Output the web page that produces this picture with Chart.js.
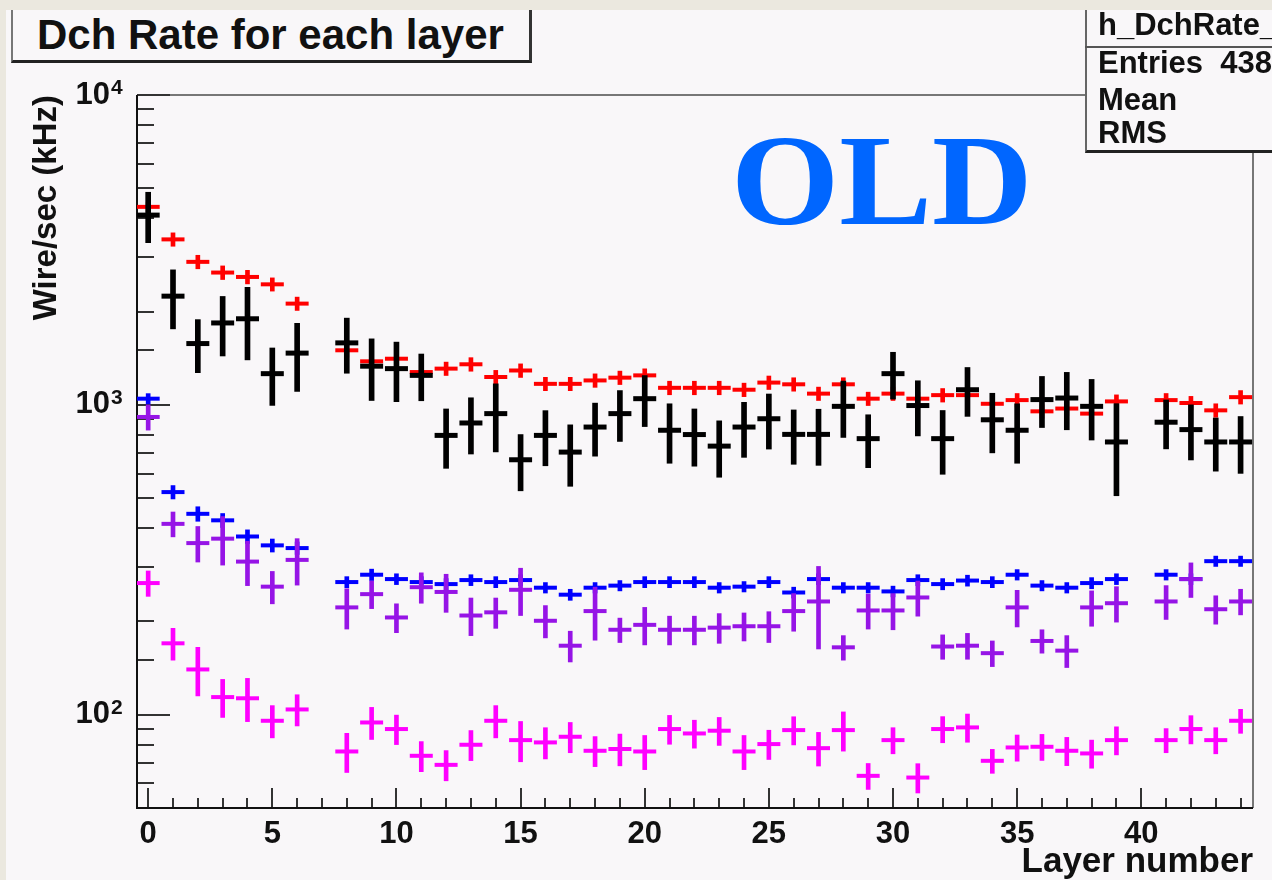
<!DOCTYPE html>
<html>
<head>
<meta charset="utf-8">
<script src="https://cdn.jsdelivr.net/npm/chart.js@4.4.1/dist/chart.umd.min.js"></script>
<style>
  body { margin: 0; background: #ebe8df; }
  #wrap { position: relative; width: 1272px; height: 880px; overflow: hidden; }
  #pad { position: absolute; left: 6px; top: 10px; right: 0; bottom: 0; background: #f9f7f9; }
  #chart { position: absolute; left: 0; top: 0; }
  .txt { position: absolute; white-space: nowrap; font-family: "Liberation Sans", Arial, sans-serif; font-weight: bold; color: #111; }
  #titlebox { position: absolute; left: 11px; top: 10px; width: 516px; height: 50px; background: #f9f7f9;
    border-left: 2px solid #777; border-right: 3px solid #333; border-bottom: 3px solid #222; }
  #statbox { position: absolute; left: 1085px; top: 10px; width: 200px; height: 140px; background: #f9f7f9;
    border-left: 2px solid #666; border-bottom: 3px solid #222; }
  #statline { position: absolute; left: 1085px; top: 46px; width: 200px; height: 2px; background: #555; }
  #old { position: absolute; left: 731px; top: 115px; font: bold 130px "Liberation Serif", "Times New Roman", serif;
    line-height: 130px; color: #0066ff; transform: scaleX(1.07); transform-origin: left top; }
</style>
</head>
<body>
<div id="wrap">
  <div id="pad"></div>
  <canvas id="chart" width="1272" height="880"></canvas>
  <div id="titlebox"></div>
  <div class="txt" style="left:37px;top:14px;font-size:42px;line-height:42px;">Dch Rate for each layer</div>
  <div id="statbox"></div>
  <div id="statline"></div>
  <div class="txt" style="left:1098px;top:9px;font-size:31px;line-height:31px;">h_DchRate_</div>
  <div class="txt" style="left:1098px;top:47px;font-size:31px;line-height:31px;">Entries&nbsp; 438</div>
  <div class="txt" style="left:1098px;top:84px;font-size:31px;line-height:31px;">Mean</div>
  <div class="txt" style="left:1098px;top:117px;font-size:31px;line-height:31px;">RMS</div>
  <div id="old">OLD</div>
</div>
<script>
const layers = [0, 1, 2, 3, 4, 5, 6, 7, 8, 9, 10, 11, 12, 13, 14, 15, 16, 17, 18, 19, 20, 21, 22,
  23, 24, 25, 26, 27, 28, 29, 30, 31, 32, 33, 34, 35, 36, 37, 38, 39, 40, 41, 42, 43, 44];

const redRate = [4355, 3420, 2894, 2673, 2587, 2449, 2122, null, 1500, 1382, 1409, 1276, 1309, 1352, 1230,
  1291, 1169, 1169, 1199, 1224, 1245, 1135, 1135, 1135, 1119, 1180, 1165, 1087, 1165, 1047, 1087, 1047,
  1075, 1075, 1008, 1036, 953, 973, 937, 1026, null, 1036, 1014, 960, 1059];
const redErr = [150, 170, 145, 135, 130, 120, 105, null, 75, 70, 70, 65, 65, 68, 62, 65, 58, 58, 60, 61, 62,
  57, 57, 57, 56, 59, 58, 54, 58, 52, 54, 52, 54, 54, 50, 52, 48, 49, 47, 51, null, 52, 51, 48, 53];

const blackRate = [4096, 2243, 1577, 1838, 1896, 1261, 1469, null, 1585, 1333, 1309, 1245, 797, 874, 937,
  665, 797, 704, 848, 937, 1047, 828, 802, 736, 848, 902, 803, 803, 989, 778, 1261, 995, 778, 1119, 895,
  828, 1040, 1052, 989, 759, null, 879, 832, 759, 759];
const blackErr = [758, 484, 307, 400, 499, 265, 364, null, 320, 300, 285, 214, 173, 180, 232, 137, 161, 158,
  165, 175, 196, 180, 168, 152, 171, 182, 160, 165, 204, 151, 217, 201, 181, 201, 195, 180, 195, 221, 219,
  250, null, 158, 168, 148, 158];

const blueRate = [1047, 523, 445, 424, 376, 352, 345, null, 268, 283, 274, 268, 264, 272, 268, 272, 257, 244,
  257, 261, 268, 268, 268, 257, 259, 268, 248, 274, 257, 257, 250, 272, 264, 271, 268, 283, 261, 257, 266,
  274, null, 283, 274, 313, 313];
const blueErr = [40, 26, 24, 22, 19, 17, 16, null, 11, 12, 11, 11, 11, 11, 11, 11, 10, 10, 10, 10, 11, 11, 11,
  10, 10, 11, 10, 11, 10, 10, 10, 11, 11, 11, 11, 11, 10, 10, 11, 11, null, 11, 11, 12, 12];

const purpleRate = [914, 413, 358, 370, 312, 259, 316, null, 222, 245, 206, 258, 249, 209, 214, 253, 201, 167,
  216, 188, 195, 188, 188, 191, 193, 193, 216, 232, 165, 217, 217, 239, 166, 167, 158, 222, 173, 161, 222,
  229, null, 232, 274, 219, 232];
const purpleErr = [85, 38, 47, 66, 51, 31, 54, null, 33, 25, 22, 29, 35, 29, 24, 44, 24, 19, 42, 17, 27, 20, 20,
  21, 20, 22, 30, 69, 15, 28, 29, 31, 15, 16, 15, 30, 15, 19, 29, 30, null, 29, 35, 23, 22];

const magentaRate = [266, 170, 140, 114, 113, 95.6, 104, null, 76.1, 94.4, 89.9, 73.7, 68.9, 80, 95.6, 82.8,
  81.4, 84.9, 76.5, 77.5, 76.1, 89.9, 87.0, 88.8, 76.1, 80.4, 89.2, 78.0, 89.2, 63.5, 82.8, 62.7, 89.9,
  91.0, 71.0, 78.4, 78.8, 76.5, 75.0, 82.8, null, 82.8, 89.9, 82.8, 95.6];
const magentaErr = [25, 20, 25, 16, 18, 11.4, 12, null, 11, 11.2, 9.8, 8.2, 7.7, 8.9, 11.4, 12.3, 9.4, 9.5, 8.5,
  9.1, 9.6, 9.6, 9.0, 9.2, 9.6, 8.7, 9.3, 9.7, 12.9, 6.1, 8.0, 6.8, 8.7, 9.5, 6.3, 7.6, 7.6, 8.0, 7.8, 8.6,
  null, 7.4, 9.4, 8.0, 8.5];

const yMin = 50, yMax = 10000;
const xMin = -0.45, xMax = 44.5;
const fontFamily = '"Liberation Sans", Arial, sans-serif';

// one ROOT-like cross per layer: floating bar = error, short line marker = bin
function series(label, color, rate, err, order, width) {
  let pts = [];
  let bars = [];
  layers.forEach((l, i) => {
    if (rate[i] == null) return;
    pts.push({ x: l, y: rate[i] });
    bars.push({ x: l, y: [rate[i] - err[i], rate[i] + err[i]] });
  });
  return [
    {
      type: "bar", label: label, data: bars, backgroundColor: color,
      barThickness: width, grouped: false, order: order,
    },
    {
      type: "scatter", label: label, data: pts, pointStyle: "line",
      pointRadius: 11.5, pointBorderWidth: width, pointBorderColor: color,
      pointBackgroundColor: color, order: order,
    },
  ];
}

const isDecade = (v) => Math.abs(Math.log10(v) - Math.round(Math.log10(v))) < 1e-6;

// ROOT style frame: ticks inside the frame, grey top/right edges
const rootFrame = {
  id: "rootFrame",
  beforeDatasetsDraw(chart) {
    const { ctx, chartArea: a, scales } = chart;
    ctx.save();
    ctx.lineWidth = 2;
    ctx.strokeStyle = "#777";
    ctx.beginPath();
    ctx.moveTo(a.left, a.top);
    ctx.lineTo(a.right, a.top);
    ctx.lineTo(a.right, a.bottom);
    ctx.stroke();

    ctx.strokeStyle = "#333";
    ctx.beginPath();
    layers.forEach((l) => {
      let px = Math.round(scales.x.getPixelForValue(l));
      let len = l % 5 === 0 ? 20 : 10;
      ctx.moveTo(px, a.bottom);
      ctx.lineTo(px, a.bottom - len);
    });
    scales.y.ticks.forEach((t) => {
      if (t.value < yMin || t.value > yMax) return;
      let py = Math.round(scales.y.getPixelForValue(t.value));
      let len = isDecade(t.value) ? 33 : 17;
      ctx.moveTo(a.left, py);
      ctx.lineTo(a.left + len, py);
    });
    ctx.stroke();

    ctx.strokeStyle = "#111";
    ctx.beginPath();
    ctx.moveTo(a.left, a.top);
    ctx.lineTo(a.left, a.bottom);
    ctx.lineTo(a.right, a.bottom);
    ctx.stroke();
    ctx.restore();
  },
  // exponents of the decade labels, ROOT draws them as raised text
  afterDraw(chart) {
    const { ctx, scales } = chart;
    ctx.save();
    ctx.fillStyle = "#111";
    ctx.font = "bold 21px " + fontFamily;
    ctx.textAlign = "left";
    ctx.textBaseline = "alphabetic";
    scales.y.ticks.forEach((t) => {
      if (!isDecade(t.value)) return;
      let py = scales.y.getPixelForValue(t.value);
      ctx.fillText(String(Math.round(Math.log10(t.value))), scales.y.right - 26, py - 1);
    });
    ctx.restore();
  },
};

const datasets = [].concat(
  series("magenta", "#ff00ff", magentaRate, magentaErr, 1, 4),
  series("purple", "#9614e6", purpleRate, purpleErr, 2, 4),
  series("blue", "#0000ff", blueRate, blueErr, 3, 4),
  series("black", "#000000", blackRate, blackErr, 4, 5),
  series("red", "#ff0000", redRate, redErr, 5, 4)
);

new Chart(document.getElementById("chart"), {
  type: "scatter",
  data: { datasets: datasets },
  options: {
    responsive: false,
    animation: false,
    layout: { padding: { left: 0, top: 95, right: 19, bottom: 0 } },
    plugins: { legend: { display: false }, tooltip: { enabled: false } },
    scales: {
      x: {
        type: "linear",
        min: xMin,
        max: xMax,
        offset: false,
        grid: { display: false, drawTicks: false },
        border: { display: false },
        afterFit: (s) => { s.height = 72; },
        ticks: {
          stepSize: 1,
          includeBounds: false,
          autoSkip: false,
          maxRotation: 0,
          padding: 8,
          color: "#111",
          font: { family: fontFamily, weight: "bold", size: 31 },
          callback: (v) => (Number.isInteger(v) && v >= 0 && v % 5 === 0 ? String(v) : ""),
        },
        title: {
          display: true,
          text: "Layer number",
          align: "end",
          color: "#111",
          padding: { top: 0, bottom: 0 },
          font: { family: fontFamily, weight: "bold", size: 35, lineHeight: 1.0 },
        },
      },
      y: {
        type: "logarithmic",
        min: yMin,
        max: yMax,
        grid: { display: false, drawTicks: false },
        border: { display: false },
        afterFit: (s) => { s.width = 137; },
        ticks: {
          autoSkip: false,
          padding: 27,
          color: "#111",
          font: { family: fontFamily, weight: "bold", size: 31 },
          callback: (v) => (isDecade(v) ? "10" : ""),
        },
        title: {
          display: true,
          text: "Wire/sec (kHz)",
          align: "end",
          color: "#111",
          padding: { top: 27 },
          font: { family: fontFamily, weight: "bold", size: 33 },
        },
      },
    },
  },
  plugins: [rootFrame],
});
</script>
</body>
</html>
